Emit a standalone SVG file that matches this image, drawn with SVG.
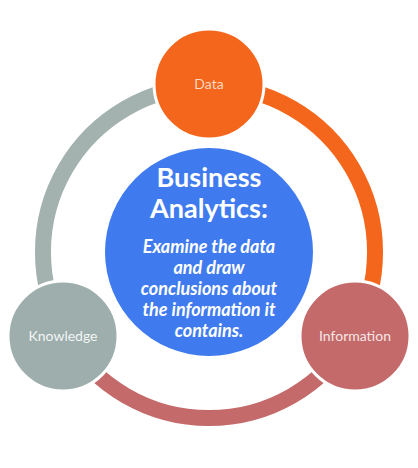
<svg xmlns="http://www.w3.org/2000/svg" width="418" height="468" viewBox="0 0 418 468">
<style>
.ring{fill:none;stroke-width:16}
.node{stroke:#ffffff;stroke-width:3}
.lbl{font-family:Lato,"Open Sans",sans-serif;font-size:14px;text-anchor:middle}
.title{font-family:Lato,"Open Sans",sans-serif;font-weight:bold;font-size:27px;fill:#ffffff;text-anchor:middle}
.sub{font-family:Lato,"Open Sans",sans-serif;font-weight:bold;font-style:italic;font-size:18px;fill:#ffffff;text-anchor:middle}
</style>
<rect width="418" height="468" fill="#ffffff"/>
<g id="connectors">
<path class="ring" stroke="#F4661B" d="M209,86 A166,166 0 0 1 352.8,335"/>
<path class="ring" stroke="#C46A6A" d="M352.8,335 A166,166 0 0 1 65.2,335"/>
<path class="ring" stroke="#A3B1AF" d="M65.2,335 A166,166 0 0 1 209,86"/>
</g>
<g id="center">
<circle cx="209" cy="252" r="104" fill="#3F7BEE"/>
<text class="title" x="209" y="187">Business</text>
<text class="title" x="209" y="218">Analytics:</text>
<text class="sub" x="209" y="253">Examine the data</text>
<text class="sub" x="209" y="274">and draw</text>
<text class="sub" x="209" y="295">conclusions about</text>
<text class="sub" x="209" y="316">the information it</text>
<text class="sub" x="209" y="337">contains.</text>
</g>
<g id="data">
<circle class="node" cx="209" cy="84" r="55" fill="#F4661B"/>
<text class="lbl" x="209" y="89" fill="#FAD9C4">Data</text>
</g>
<g id="information">
<circle class="node" cx="355" cy="336" r="55" fill="#C46A6A"/>
<text class="lbl" x="355" y="341" fill="#F8E6E6">Information</text>
</g>
<g id="knowledge">
<circle class="node" cx="63" cy="336" r="55" fill="#9DAEAC"/>
<text class="lbl" x="63" y="341" fill="#F2F5F5">Knowledge</text>
</g>
</svg>
